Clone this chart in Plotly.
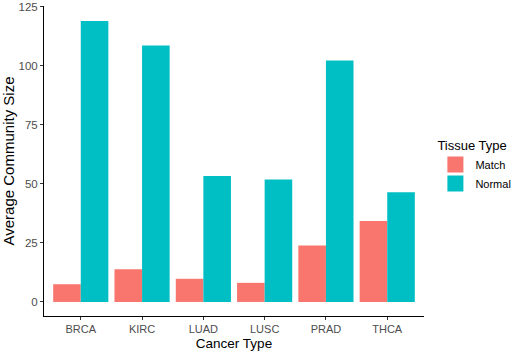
import plotly.graph_objects as go

cancer_types = ["BRCA", "KIRC", "LUAD", "LUSC", "PRAD", "THCA"]
match_values = [7.5, 13.8, 9.8, 8.1, 23.9, 34.3]
normal_values = [119.0, 108.6, 53.3, 51.8, 102.2, 46.4]
y_ticks = [0, 25, 50, 75, 100, 125]
series_names = ["Match", "Normal"]
series_colors = ["#F8766D", "#00BFC4"]

font_family = "Liberation Sans, Arial, sans-serif"

fig = go.Figure()
for name, vals, col in zip(series_names, [match_values, normal_values], series_colors):
    fig.add_trace(go.Bar(x=cancer_types, y=vals, name=name, legendgroup=name,
                         showlegend=False,
                         marker=dict(color=col, line=dict(width=0))))
# legend keys (larger squares, like ggplot)
for name, col in zip(series_names, series_colors):
    fig.add_trace(go.Scatter(x=[None], y=[None], mode="markers", name=name,
                             legendgroup=name,
                             marker=dict(symbol="square", size=16, color=col,
                                         line=dict(width=0))))

fig.update_layout(
    width=520, height=351,
    margin=dict(l=44, r=96, t=6, b=35, autoexpand=False),
    barmode="group", bargap=0.1, bargroupgap=0,
    plot_bgcolor="white", paper_bgcolor="white",
    font=dict(family=font_family, color="#000000"),
    legend=dict(
        title=dict(text="Tissue Type", font=dict(size=13, color="#000000")),
        font=dict(size=11, color="#000000"),
        x=1.03, xanchor="left", y=0.59, yanchor="top",
        itemsizing="trace", tracegroupgap=0,
        bgcolor="rgba(0,0,0,0)",
    ),
    xaxis=dict(
        title=dict(text="Cancer Type", font=dict(size=13.5, color="#000000"), standoff=4),
        automargin=False,
        range=[-0.6, 5.6],
        showline=True, linecolor="black", linewidth=1,
        ticks="outside", ticklen=3, tickcolor="#333333",
        tickfont=dict(size=11, color="#4d4d4d"),
        showgrid=False, zeroline=False,
    ),
    yaxis=dict(
        title=dict(text="Average Community Size", font=dict(size=15, color="#000000"), standoff=5),
        automargin=False,
        range=[-5.95, 125.3],
        tickvals=y_ticks,
        showline=True, linecolor="black", linewidth=1,
        ticks="outside", ticklen=3, tickcolor="#333333",
        tickfont=dict(size=11.5, color="#4d4d4d"),
        showgrid=False, zeroline=False,
    ),
)

fig.write_html("out.html")
